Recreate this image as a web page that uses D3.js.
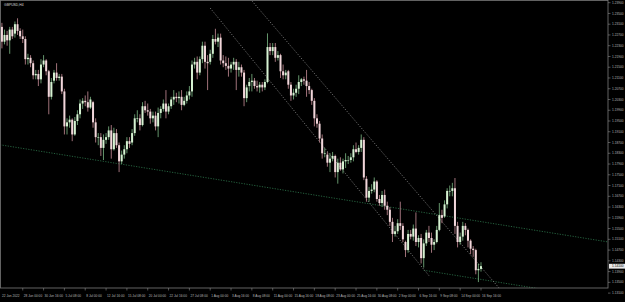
<!DOCTYPE html>
<html>
<head>
<meta charset="utf-8">
<script src="https://cdn.jsdelivr.net/npm/d3@7"></script>
<style>
  html, body { margin: 0; padding: 0; background: #000; }
  svg { display: block; }
  svg text { font-family: "Liberation Sans", Arial, sans-serif; }
</style>
</head>
<body>
<svg id="chart" width="625" height="302"></svg>
<script>
// GBPUSD, 8-hour bars from 22 Jun 2022 to 16 Sep 2022 (three bars per trading day)
const opens = [
  1.2270,1.2285,1.2205, 1.2265,1.2300,1.2245, 1.2270,1.2250,1.2290, 1.2275,1.2310,1.2285, 1.2265,1.2255,1.2180,
  1.2185,1.2165,1.2120, 1.2125,1.2105,1.2160, 1.2175,1.2135,1.2040, 1.2100,1.2130,1.2110, 1.2115,1.2060,1.1930,
  1.1945,1.1955,1.1900, 1.1950,1.1975,1.2015, 1.2025,1.2020,1.2000, 1.2020,1.1945,1.1890, 1.1890,1.1850,1.1880,
  1.1890,1.1915,1.1845, 1.1905,1.1860,1.1800, 1.1825,1.1845,1.1875, 1.1870,1.1905,1.1960, 1.1960,1.1935,1.2005,
  1.1990,1.1985,1.1960, 1.1970,1.1930,1.1980, 1.1995,1.2015,1.1985, 1.2005,1.2030,1.2040, 1.2035,1.2040,1.2010,
  1.2025,1.2045,1.2060, 1.2160,1.2170,1.2130, 1.2180,1.2230,1.2170, 1.2170,1.2200,1.2255, 1.2245,1.2260,1.2175,
  1.2165,1.2155,1.2145, 1.2160,1.2170,1.2140, 1.2150,1.2130,1.2035, 1.2080,1.2095,1.2100, 1.2080,1.2075,1.2085,
  1.2075,1.2095,1.2225, 1.2210,1.2225,1.2185, 1.2195,1.2135,1.2120, 1.2135,1.2085,1.2045, 1.2055,1.2070,1.2095,
  1.2105,1.2100,1.2080, 1.2065,1.2025,1.1960, 1.1940,1.1885,1.1830, 1.1825,1.1795,1.1810, 1.1820,1.1760,1.1795,
  1.1770,1.1800,1.1805, 1.1805,1.1815,1.1845, 1.1835,1.1850,1.1880, 1.1735,1.1665,1.1690, 1.1695,1.1725,1.1660,
  1.1645,1.1675,1.1635, 1.1620,1.1575,1.1530, 1.1540,1.1570,1.1560, 1.1500,1.1470,1.1530, 1.1520,1.1550,1.1500,
  1.1515,1.1440,1.1495, 1.1535,1.1515,1.1490, 1.1500,1.1545,1.1600, 1.1595,1.1640,1.1690, 1.1690,1.1700,1.1560,
  1.1500,1.1520,1.1560, 1.1545,1.1505,1.1475, 1.1470,1.1395,1.1400
];
const highs = [
  1.2295,1.2315,1.2275, 1.2310,1.2315,1.2290, 1.2285,1.2300,1.2300, 1.2320,1.2332,1.2295, 1.2290,1.2265,1.2200,
  1.2195,1.2175,1.2140, 1.2140,1.2180,1.2195, 1.2180,1.2140,1.2110, 1.2140,1.2165,1.2125, 1.2125,1.2070,1.1960,
  1.1970,1.1960,1.1965, 1.1990,1.2030,1.2035, 1.2045,1.2060,1.2040, 1.2025,1.1960,1.1905, 1.1905,1.1900,1.1905,
  1.1930,1.1935,1.1925, 1.1920,1.1870,1.1840, 1.1860,1.1890,1.1890, 1.1920,1.1975,1.1990, 1.1975,1.2020,1.2025,
  1.2015,1.1995,1.1985, 1.1985,1.2000,1.2005, 1.2030,1.2065,1.2015, 1.2040,1.2065,1.2055, 1.2060,1.2065,1.2040,
  1.2060,1.2080,1.2175, 1.2185,1.2190,1.2190, 1.2245,1.2245,1.2195, 1.2215,1.2270,1.2293, 1.2275,1.2275,1.2195,
  1.2190,1.2185,1.2170, 1.2185,1.2180,1.2170, 1.2160,1.2140,1.2085, 1.2110,1.2125,1.2110, 1.2100,1.2095,1.2095,
  1.2105,1.2276,1.2240, 1.2240,1.2240,1.2210, 1.2200,1.2160,1.2140, 1.2140,1.2095,1.2070, 1.2085,1.2120,1.2110,
  1.2115,1.2140,1.2095, 1.2070,1.2035,1.1975, 1.1950,1.1900,1.1850, 1.1835,1.1830,1.1835, 1.1825,1.1810,1.1815,
  1.1810,1.1830,1.1820, 1.1830,1.1860,1.1870, 1.1860,1.1900,1.1890, 1.1745,1.1705,1.1715, 1.1740,1.1730,1.1675,
  1.1690,1.1695,1.1650, 1.1630,1.1590,1.1560, 1.1585,1.1650,1.1570, 1.1505,1.1545,1.1545, 1.1565,1.1610,1.1525,
  1.1530,1.1510,1.1545, 1.1560,1.1535,1.1510, 1.1560,1.1645,1.1620, 1.1655,1.1700,1.1710, 1.1720,1.1738,1.1575,
  1.1535,1.1575,1.1570, 1.1550,1.1510,1.1485, 1.1475,1.1420,1.1425
];
const lows = [
  1.2240,1.2160,1.2195, 1.2250,1.2220,1.2235, 1.2230,1.2200,1.2255, 1.2260,1.2270,1.2255, 1.2240,1.2160,1.2160,
  1.2150,1.2105,1.2105, 1.2080,1.2090,1.2150, 1.2120,1.1975,1.2030, 1.2090,1.2100,1.2100, 1.2050,1.1900,1.1900,
  1.1925,1.1875,1.1895, 1.1935,1.1960,1.1995, 1.2005,1.1985,1.1995, 1.1925,1.1870,1.1860, 1.1820,1.1805,1.1865,
  1.1880,1.1810,1.1840, 1.1850,1.1760,1.1790, 1.1810,1.1830,1.1850, 1.1860,1.1895,1.1945, 1.1915,1.1930,1.1980,
  1.1970,1.1940,1.1945, 1.1915,1.1890,1.1960, 1.1985,1.1960,1.1975, 1.1995,1.2010,1.2020, 1.2015,1.1990,1.2005,
  1.2015,1.2030,1.2040, 1.2145,1.2105,1.2120, 1.2165,1.2145,1.2065, 1.2160,1.2185,1.2235, 1.2225,1.2160,1.2150,
  1.2140,1.2115,1.2130, 1.2140,1.2065,1.2115, 1.2115,1.2005,1.2020, 1.2060,1.2060,1.2070, 1.2060,1.2055,1.2060,
  1.2065,1.2090,1.2195, 1.2195,1.2170,1.2175, 1.2110,1.2105,1.2105, 1.2070,1.2025,1.2030, 1.2040,1.2050,1.2080,
  1.2085,1.2040,1.2050, 1.2010,1.1930,1.1925, 1.1870,1.1810,1.1815, 1.1780,1.1760,1.1800, 1.1740,1.1717,1.1765,
  1.1755,1.1775,1.1790, 1.1795,1.1800,1.1830, 1.1825,1.1835,1.1730, 1.1650,1.1650,1.1680, 1.1685,1.1650,1.1635,
  1.1630,1.1620,1.1600, 1.1560,1.1500,1.1520, 1.1530,1.1545,1.1500, 1.1444,1.1460,1.1510, 1.1505,1.1485,1.1480,
  1.1420,1.1405,1.1485, 1.1500,1.1460,1.1470, 1.1495,1.1540,1.1570, 1.1590,1.1625,1.1670, 1.1670,1.1530,1.1480,
  1.1490,1.1505,1.1525, 1.1480,1.1455,1.1445, 1.1380,1.1351,1.1390
];
const closes = [
  1.2285,1.2205,1.2265, 1.2300,1.2245,1.2270, 1.2250,1.2290,1.2265, 1.2310,1.2285,1.2265, 1.2255,1.2180,1.2185,
  1.2165,1.2120,1.2125, 1.2105,1.2160,1.2175, 1.2135,1.2040,1.2095, 1.2130,1.2110,1.2115, 1.2060,1.1930,1.1945,
  1.1955,1.1900,1.1950, 1.1975,1.2015,1.2025, 1.2020,1.2000,1.2030, 1.1945,1.1890,1.1890, 1.1850,1.1880,1.1890,
  1.1915,1.1845,1.1905, 1.1860,1.1800,1.1825, 1.1845,1.1875,1.1865, 1.1905,1.1960,1.1960, 1.1935,1.2005,1.1990,
  1.1985,1.1960,1.1970, 1.1930,1.1980,1.1995, 1.2015,1.1985,1.2005, 1.2030,1.2040,1.2035, 1.2040,1.2010,1.2025,
  1.2045,1.2060,1.2160, 1.2170,1.2130,1.2180, 1.2230,1.2170,1.2165, 1.2200,1.2255,1.2245, 1.2260,1.2175,1.2165,
  1.2155,1.2145,1.2160, 1.2170,1.2140,1.2150, 1.2130,1.2035,1.2075, 1.2095,1.2100,1.2080, 1.2075,1.2085,1.2075,
  1.2095,1.2225,1.2210, 1.2225,1.2185,1.2195, 1.2135,1.2120,1.2130, 1.2085,1.2045,1.2055, 1.2070,1.2095,1.2105,
  1.2100,1.2080,1.2065, 1.2025,1.1960,1.1940, 1.1885,1.1830,1.1830, 1.1795,1.1810,1.1820, 1.1760,1.1795,1.1770,
  1.1800,1.1805,1.1805, 1.1815,1.1845,1.1835, 1.1850,1.1880,1.1740, 1.1665,1.1690,1.1695, 1.1725,1.1660,1.1645,
  1.1675,1.1635,1.1620, 1.1575,1.1530,1.1540, 1.1570,1.1560,1.1510, 1.1470,1.1530,1.1520, 1.1550,1.1500,1.1515,
  1.1440,1.1495,1.1535, 1.1515,1.1490,1.1500, 1.1545,1.1600,1.1590, 1.1640,1.1690,1.1690, 1.1700,1.1560,1.1500,
  1.1520,1.1560,1.1545, 1.1505,1.1475,1.1470, 1.1395,1.1400,1.1410
];

// price axis labels
const priceTicks = [
  1.2390, 1.2350, 1.2310, 1.2270, 1.2230, 1.2190, 1.2150, 1.2110, 1.2070, 1.2030,
  1.1990, 1.1950, 1.1910, 1.1870, 1.1830, 1.1790, 1.1750, 1.1710, 1.1670, 1.1630,
  1.1590, 1.1550, 1.1510, 1.1470, 1.1430, 1.1390, 1.1350, 1.1310
];

// time axis labels (bar index of each label)
const firstTimeLabel = "22 Jun 2022";
const timeTickBars = [12, 20, 28, 36, 44, 52, 60, 68, 76, 84, 92, 100, 108, 116, 124, 132, 140, 148, 156, 164, 172, 180, 188];
const timeTickLabels = [
  "28 Jun 00:00", "30 Jun 16:00", "5 Jul 08:00", "8 Jul 00:00", "12 Jul 16:00", "15 Jul 08:00",
  "20 Jul 00:00", "22 Jul 16:00", "27 Jul 08:00", "1 Aug 00:00", "3 Aug 16:00", "8 Aug 08:00",
  "11 Aug 00:00", "15 Aug 16:00", "18 Aug 08:00", "23 Aug 00:00", "25 Aug 16:00", "30 Aug 08:00",
  "2 Sep 00:00", "6 Sep 16:00", "9 Sep 08:00", "14 Sep 00:00", "16 Sep 16:00"
];

// trend lines: [bar index, price] anchor pairs
const supportLine = [[3, 1.1862], [237, 1.1500]];
const supportLine2 = [[166, 1.1395], [237, 1.1285]];
const channelLineA = [[84, 1.2370], [168, 1.1375]];
const channelLineB = [[100, 1.2397], [160, 1.1722]];

function renderChart() {
  const W = 625, H = 302;
  const plotLeft = 1, plotTop = 1, plotRight = 608, plotBottom = 288;

  const svg = d3.select("#chart");
  svg.append("rect").attr("width", W).attr("height", H).attr("fill", "#000");

  const x = d3.scaleLinear().domain([0, 188]).range([-8.5, 481]);
  const y = d3.scaleLinear().domain([1.1329, 1.2400]).range([plotBottom, 0]);

  svg.append("clipPath").attr("id", "plot-clip")
    .append("rect")
    .attr("x", plotLeft).attr("y", plotTop)
    .attr("width", plotRight - plotLeft).attr("height", plotBottom - plotTop);

  const plot = svg.append("g").attr("clip-path", "url(#plot-clip)");

  // rays run on to the right edge (and to the left when asked)
  function drawRay(pts, color, dash, extendLeft) {
    const x0 = x(pts[0][0]), y0 = y(pts[0][1]);
    const x1 = x(pts[1][0]), y1 = y(pts[1][1]);
    const slope = (y1 - y0) / (x1 - x0);
    const startX = extendLeft ? 0 : x0;
    const endX = W;
    plot.append("line")
      .attr("x1", startX).attr("y1", y0 + slope * (startX - x0))
      .attr("x2", endX).attr("y2", y0 + slope * (endX - x0))
      .attr("stroke", color)
      .attr("stroke-width", 0.8)
      .attr("stroke-dasharray", dash);
  }
  drawRay(supportLine, "#2e7a4e", "1.2,1.4", true);
  drawRay(supportLine2, "#2e7a4e", "1.2,1.4", false);

  function drawSegment(pts, color, dash) {
    plot.append("line")
      .attr("x1", x(pts[0][0])).attr("y1", y(pts[0][1]))
      .attr("x2", x(pts[1][0])).attr("y2", y(pts[1][1]))
      .attr("stroke", color)
      .attr("stroke-width", 0.8)
      .attr("stroke-dasharray", dash);
  }
  drawSegment(channelLineA, "#8a8a8a", "1.2,1.6");
  drawRay(channelLineB, "#8a8a8a", "1.2,1.6", false);

  // candles
  const bars = d3.range(opens.length);
  const bodyW = 2.0;
  const upWick = "#8fd49a", downWick = "#e4a2ae";
  const upBody = "#d6f2d2", downBody = "#f1d6da";

  const candle = plot.append("g").selectAll("g")
    .data(bars)
    .join("g");

  candle.append("line")
    .attr("x1", i => x(i)).attr("x2", i => x(i))
    .attr("y1", i => y(highs[i])).attr("y2", i => y(lows[i]))
    .attr("stroke", i => closes[i] >= opens[i] ? upWick : downWick)
    .attr("stroke-width", 0.7);

  candle.append("rect")
    .attr("x", i => x(i) - bodyW / 2)
    .attr("y", i => y(Math.max(opens[i], closes[i])))
    .attr("width", bodyW)
    .attr("height", i => Math.max(0.6, Math.abs(y(opens[i]) - y(closes[i]))))
    .attr("fill", i => closes[i] >= opens[i] ? upBody : downBody);

  // frame
  svg.append("rect")
    .attr("x", plotLeft - 0.5).attr("y", plotTop - 0.5)
    .attr("width", plotRight - plotLeft + 0.5).attr("height", plotBottom - plotTop + 0.5)
    .attr("fill", "none").attr("stroke", "#7a7a7a").attr("stroke-width", 0.8);

  // symbol caption
  svg.append("text")
    .attr("x", 4).attr("y", 6)
    .attr("font-size", 3.4)
    .attr("fill", "#d8d8d8")
    .text("GBPUSD,H4");

  // price axis
  const priceAxis = svg.append("g");
  priceTicks.forEach(function(p) {
    const py = y(p);
    priceAxis.append("line")
      .attr("x1", plotRight).attr("x2", plotRight + 2.5)
      .attr("y1", py).attr("y2", py)
      .attr("stroke", "#8a8a8a").attr("stroke-width", 0.6);
    priceAxis.append("text")
      .attr("x", plotRight + 4).attr("y", py + 1.1)
      .attr("font-size", 3.2)
      .attr("fill", "#b8b8b8")
      .text(p.toFixed(5));
  });

  // current price marker
  const last = closes[closes.length - 1];
  priceAxis.append("rect")
    .attr("x", plotRight + 1).attr("y", y(last) - 2.4)
    .attr("width", 16).attr("height", 4.8)
    .attr("fill", "#e8e8e8");
  priceAxis.append("text")
    .attr("x", plotRight + 4).attr("y", y(last) + 1.1)
    .attr("font-size", 3.2)
    .attr("fill", "#000")
    .text(last.toFixed(5));

  // time axis
  const timeAxis = svg.append("g");
  timeAxis.append("text")
    .attr("x", 2).attr("y", 296.5)
    .attr("font-size", 3.2)
    .attr("fill", "#b8b8b8")
    .text(firstTimeLabel);
  timeTickBars.forEach(function(b, k) {
    const tx = x(b);
    timeAxis.append("line")
      .attr("x1", tx).attr("x2", tx)
      .attr("y1", plotBottom).attr("y2", plotBottom + 2.5)
      .attr("stroke", "#8a8a8a").attr("stroke-width", 0.6);
    timeAxis.append("text")
      .attr("x", tx + 1).attr("y", 296.5)
      .attr("font-size", 3.2)
      .attr("fill", "#b8b8b8")
      .text(timeTickLabels[k]);
  });
}

renderChart();
</script>
</body>
</html>
